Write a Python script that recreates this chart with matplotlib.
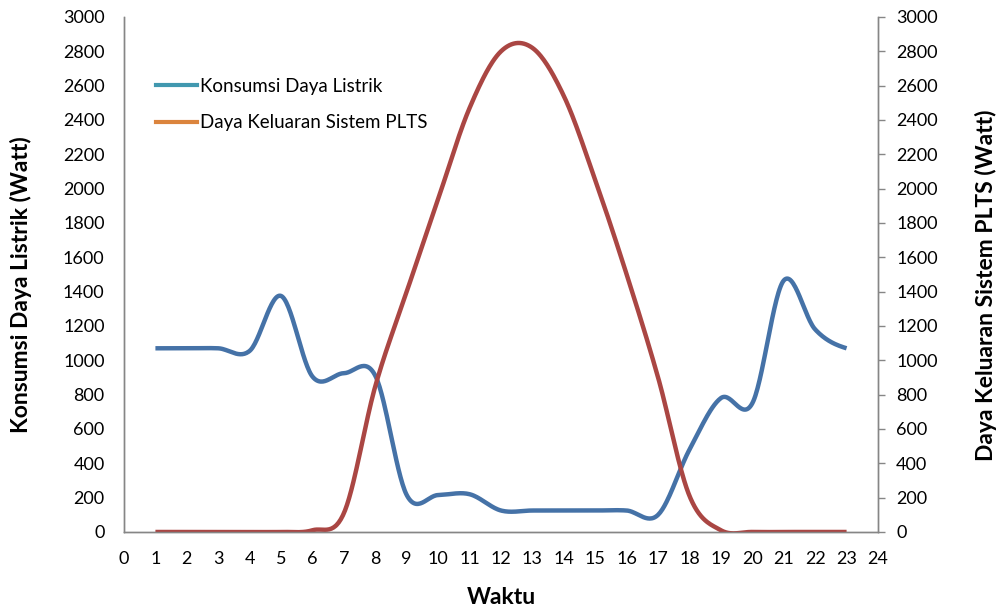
import numpy as np
import matplotlib.pyplot as plt

# --- Data ---
hours = [1, 2, 3, 4, 5, 6, 7, 8, 9, 10, 11, 12, 13, 14, 15, 16, 17, 18, 19, 20, 21, 22, 23]
konsumsi = [1070, 1070, 1070, 1055, 1375, 905, 925, 910, 215, 215, 220, 125, 125, 125, 125, 125, 100,
            480, 780, 750, 1465, 1180, 1070]
plts = [0, 0, 0, 0, 0, 10, 110, 850, 1400, 1940, 2470, 2800, 2820, 2540, 2050, 1500, 900,
        210, 10, 0, 0, 0, 0]

BLUE = '#4572A7'
RED = '#AA4643'
LEG_BLUE = '#4198AF'
LEG_ORANGE = '#DB843D'
AXIS_GRAY = '#868686'


def smooth(x, y, n=30):
    """Catmull-Rom curve through the points, like Excel's smoothed line."""
    x = np.asarray(x, float)
    y = np.asarray(y, float)
    px = np.concatenate([[2 * x[0] - x[1]], x, [2 * x[-1] - x[-2]]])
    py = np.concatenate([[y[0]], y, [y[-1]]])
    xs, ys = [], []
    t = np.linspace(0, 1, n, endpoint=False)
    for i in range(1, len(px) - 2):
        for p, out in ((px, xs), (py, ys)):
            p0, p1, p2, p3 = p[i - 1], p[i], p[i + 1], p[i + 2]
            out.extend(0.5 * ((2 * p1) + (-p0 + p2) * t
                              + (2 * p0 - 5 * p1 + 4 * p2 - p3) * t ** 2
                              + (-p0 + 3 * p1 - 3 * p2 + p3) * t ** 3))
    xs.append(x[-1])
    ys.append(y[-1])
    return np.array(xs), np.array(ys)


plt.rcParams['font.family'] = ['Lato', 'DejaVu Sans']

fig = plt.figure(figsize=(10, 6.07), dpi=100)
ax1 = fig.add_axes([0.124, 0.1236, 0.754, 0.8484])
ax2 = ax1.twinx()

bx, by = smooth(hours, konsumsi)
rx, ry = smooth(hours, plts)
ax1.plot(bx, by, color=BLUE, lw=3.2, solid_capstyle='butt', zorder=3)
ax2.plot(rx, ry, color=RED, lw=3.2, solid_capstyle='butt', zorder=2)

for ax in (ax1, ax2):
    ax.set_ylim(0, 3000)
    ax.set_yticks(range(0, 3001, 200))
    ax.set_xlim(0, 24)
    ax.spines['top'].set_visible(False)
    for s in ('left', 'right', 'bottom'):
        ax.spines[s].set_color(AXIS_GRAY)
        ax.spines[s].set_linewidth(1.0)

ax1.set_xticks(range(0, 25))
ax1.tick_params(axis='x', length=0, pad=14, labelsize=13)
ax1.tick_params(axis='y', length=0, pad=14, labelsize=13)
ax2.tick_params(axis='y', length=5, width=1, color=AXIS_GRAY, pad=8, labelsize=13)

ax1.set_xlabel('Waktu', fontsize=16.5, fontweight='bold')
ax1.set_ylabel('Konsumsi Daya Listrik (Watt)', fontsize=16.5, fontweight='bold')
ax2.set_ylabel('Daya Keluaran Sistem PLTS (Watt)', fontsize=16.5, fontweight='bold')
ax1.xaxis.set_label_coords(0.5, -0.107)
ax1.yaxis.set_label_coords(-0.122, 0.48)
ax2.yaxis.set_label_coords(1.128, 0.48)

# legend with the odd Excel colours
ax1.plot([], [], color=LEG_BLUE, lw=3, label='Konsumsi Daya Listrik')
ax1.plot([], [], color=LEG_ORANGE, lw=3, label='Daya Keluaran Sistem PLTS')
ax1.legend(loc='upper left', bbox_to_anchor=(0.02, 0.915), frameon=False, fontsize=13.5,
           handlelength=2.2, handletextpad=0.15, labelspacing=1.05)

fig.savefig('out.png', dpi=100)
